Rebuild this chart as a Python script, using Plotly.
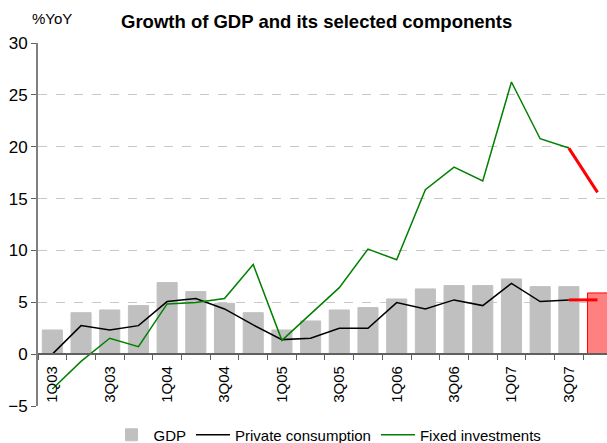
import plotly.graph_objects as go

quarters = ["1Q03", "2Q03", "3Q03", "4Q03", "1Q04", "2Q04", "3Q04", "4Q04",
            "1Q05", "2Q05", "3Q05", "4Q05", "1Q06", "2Q06", "3Q06", "4Q06",
            "1Q07", "2Q07", "3Q07", "4Q07"]
tick_labels = ["1Q03", "", "3Q03", "", "1Q04", "", "3Q04", "", "1Q05", "",
               "3Q05", "", "1Q06", "", "3Q06", "", "1Q07", "", "3Q07", ""]
gdp = [2.33, 4.0, 4.26, 4.68, 6.9, 6.03, 4.9, 4.0, 2.33, 3.2,
       4.26, 4.49, 5.32, 6.29, 6.61, 6.61, 7.25, 6.51, 6.51, 5.9]
private_consumption = [0.0, 2.75, 2.33, 2.75, 5.07, 5.36, 4.36, 2.82, 1.4, 1.53,
                       2.5, 2.5, 4.97, 4.36, 5.23, 4.68, 6.83, 5.07, 5.23, 5.23]
fixed_investments = [-3.36, -0.7, 1.53, 0.72, 4.84, 4.97, 5.36, 8.65, 1.33, 3.85,
                     6.41, 10.13, 9.1, 15.85, 18.04, 16.7, 26.24, 20.77, 19.87, 15.6]

FONT = "Arial, Liberation Sans, sans-serif"

bar_colors = ["#C0C0C0"] * (len(quarters) - 1) + ["#FF8080"]
bar_lines = ["#C0C0C0"] * (len(quarters) - 1) + ["#FF0000"]

fig = go.Figure()
fig.add_trace(go.Bar(x=quarters, y=gdp, name="GDP",
                     marker=dict(color=bar_colors, line=dict(color=bar_lines, width=1)),
                     width=0.7))
fig.add_trace(go.Scatter(x=quarters[:-1], y=private_consumption[:-1], mode="lines",
                         name="Private consumption", line=dict(color="#000000", width=1.5)))
fig.add_trace(go.Scatter(x=quarters[:-1], y=fixed_investments[:-1], mode="lines",
                         name="Fixed investments", line=dict(color="#008000", width=1.5)))
fig.add_trace(go.Scatter(x=quarters[-2:], y=private_consumption[-2:], mode="lines",
                         showlegend=False, line=dict(color="#FF0000", width=3)))
fig.add_trace(go.Scatter(x=quarters[-2:], y=fixed_investments[-2:], mode="lines",
                         showlegend=False, line=dict(color="#FF0000", width=3)))

fig.update_layout(
    width=607, height=443,
    margin=dict(l=38, r=0, t=43, b=37, autoexpand=False),
    paper_bgcolor="white", plot_bgcolor="white",
    font=dict(family=FONT, color="black", size=15),
    showlegend=True,
    legend=dict(orientation="h", x=(328 - 38) / 569, xanchor="center", y=-0.08,
                yanchor="middle",
                font=dict(size=15, family=FONT), bgcolor="rgba(0,0,0,0)",
                traceorder="normal", itemwidth=34),
    bargap=0.3,
)
fig.update_xaxes(
    type="category", categoryorder="array", categoryarray=quarters,
    range=[-0.5, 19.33],
    tickmode="array", tickvals=quarters, ticktext=tick_labels,
    tickson="boundaries", ticks="outside", ticklen=5, tickcolor="#606060",
    tickangle=-90, tickfont=dict(size=15, family=FONT), ticklabelstandoff=5,
    showline=True, linecolor="#606060", linewidth=2,
    showgrid=False, zeroline=False,
    anchor="free", position=5 / 35,
)
fig.update_yaxes(
    range=[-5, 30], tickmode="linear", tick0=-5, dtick=5,
    showgrid=True, gridcolor="#C8C8C8", griddash="dash", gridwidth=1,
    zeroline=False,
    showline=True, linecolor="#808080", linewidth=2,
    ticks="outside", ticklen=5, tickcolor="#606060",
    tickfont=dict(size=17, family=FONT),
)
fig.add_annotation(text="<b>Growth of GDP and its selected components</b>",
                   xref="paper", yref="paper", x=(316 - 38) / 569, y=1,
                   yshift=22, xanchor="center", yanchor="middle",
                   showarrow=False, font=dict(size=18.5, family=FONT))
fig.add_annotation(text="%YoY", xref="paper", yref="paper", x=(30 - 38) / 569, y=1,
                   yshift=25, xanchor="left", yanchor="middle",
                   showarrow=False, font=dict(size=15, family=FONT))

fig.write_html(
    "out.html",
    config={"displayModeBar": False},
    post_script="document.body.style.margin='0';document.body.style.padding='0';"
                "document.body.style.overflow='hidden';",
)
